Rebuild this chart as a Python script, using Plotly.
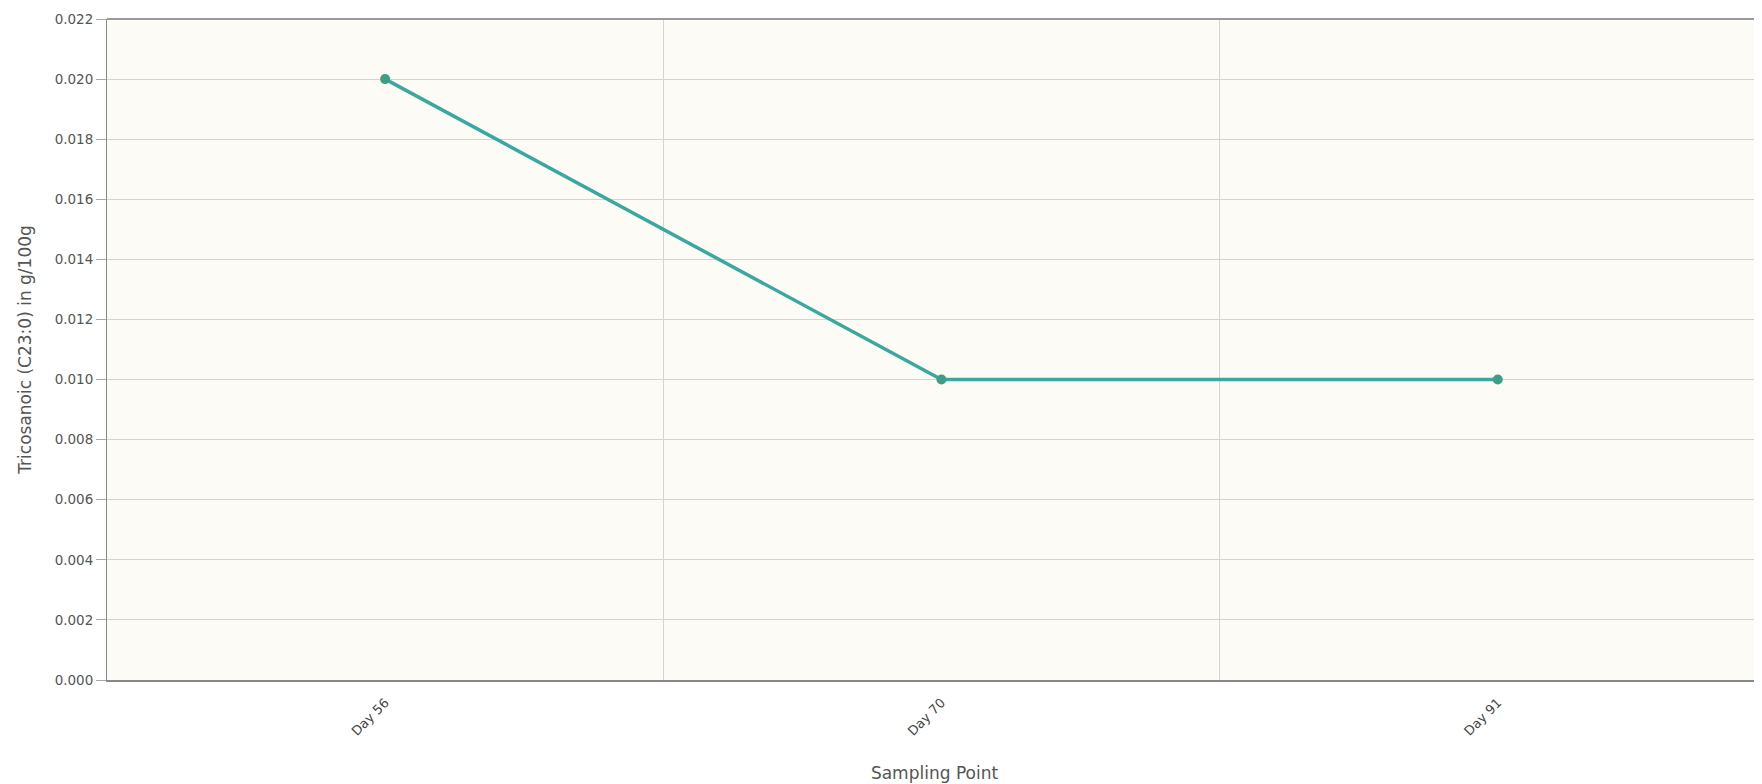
import plotly.graph_objects as go

categories = ["Day 56", "Day 70", "Day 91"]
values = [0.020, 0.010, 0.010]
y_ticks = [0.000, 0.002, 0.004, 0.006, 0.008, 0.010, 0.012, 0.014, 0.016, 0.018, 0.020, 0.022]
y_labels = [f"{v:.3f}" for v in y_ticks]

fig = go.Figure()
fig.add_trace(go.Scatter(
    x=categories, y=values, mode="lines+markers",
    line=dict(color="#3AA8A0", width=3.5),
    marker=dict(color="#3E9E86", size=10),
    showlegend=False,
))

font = "DejaVu Sans"
fig.update_layout(
    width=1754, height=776,
    margin=dict(l=99, r=0, t=11, b=104),
    paper_bgcolor="white",
    plot_bgcolor="#FDFBF6",
    font=dict(family=font, color="#555555", size=12),
    xaxis=dict(
        type="category", tickson="boundaries",
        range=[-0.5, 2.475],
        showgrid=True, gridcolor="#D4D4D4", gridwidth=1,
        showline=True, linecolor="#888888", linewidth=2,
        ticks="", tickangle=-45, ticklabelstandoff=8,
        tickfont=dict(size=13, color="#444444"),
        title=dict(text="Sampling Point", font=dict(size=17, color="#555555"), standoff=30),
    ),
    yaxis=dict(
        range=[0, 0.022],
        tickvals=y_ticks, ticktext=y_labels,
        showgrid=True, gridcolor="#D4D4D4", gridwidth=1,
        showline=True, linecolor="#888888", linewidth=1,
        ticks="outside", ticklen=10, tickcolor="#AAAAAA",
        tickfont=dict(size=13.5, color="#555555"),
        title=dict(text="Tricosanoic (C23:0) in g/100g", font=dict(size=17, color="#555555"), standoff=18),
        zeroline=False,
    ),
)
fig.add_shape(type="line", xref="paper", yref="paper", x0=0, x1=1, y0=1, y1=1,
              line=dict(color="#999999", width=2))

fig.write_html("out.html")
